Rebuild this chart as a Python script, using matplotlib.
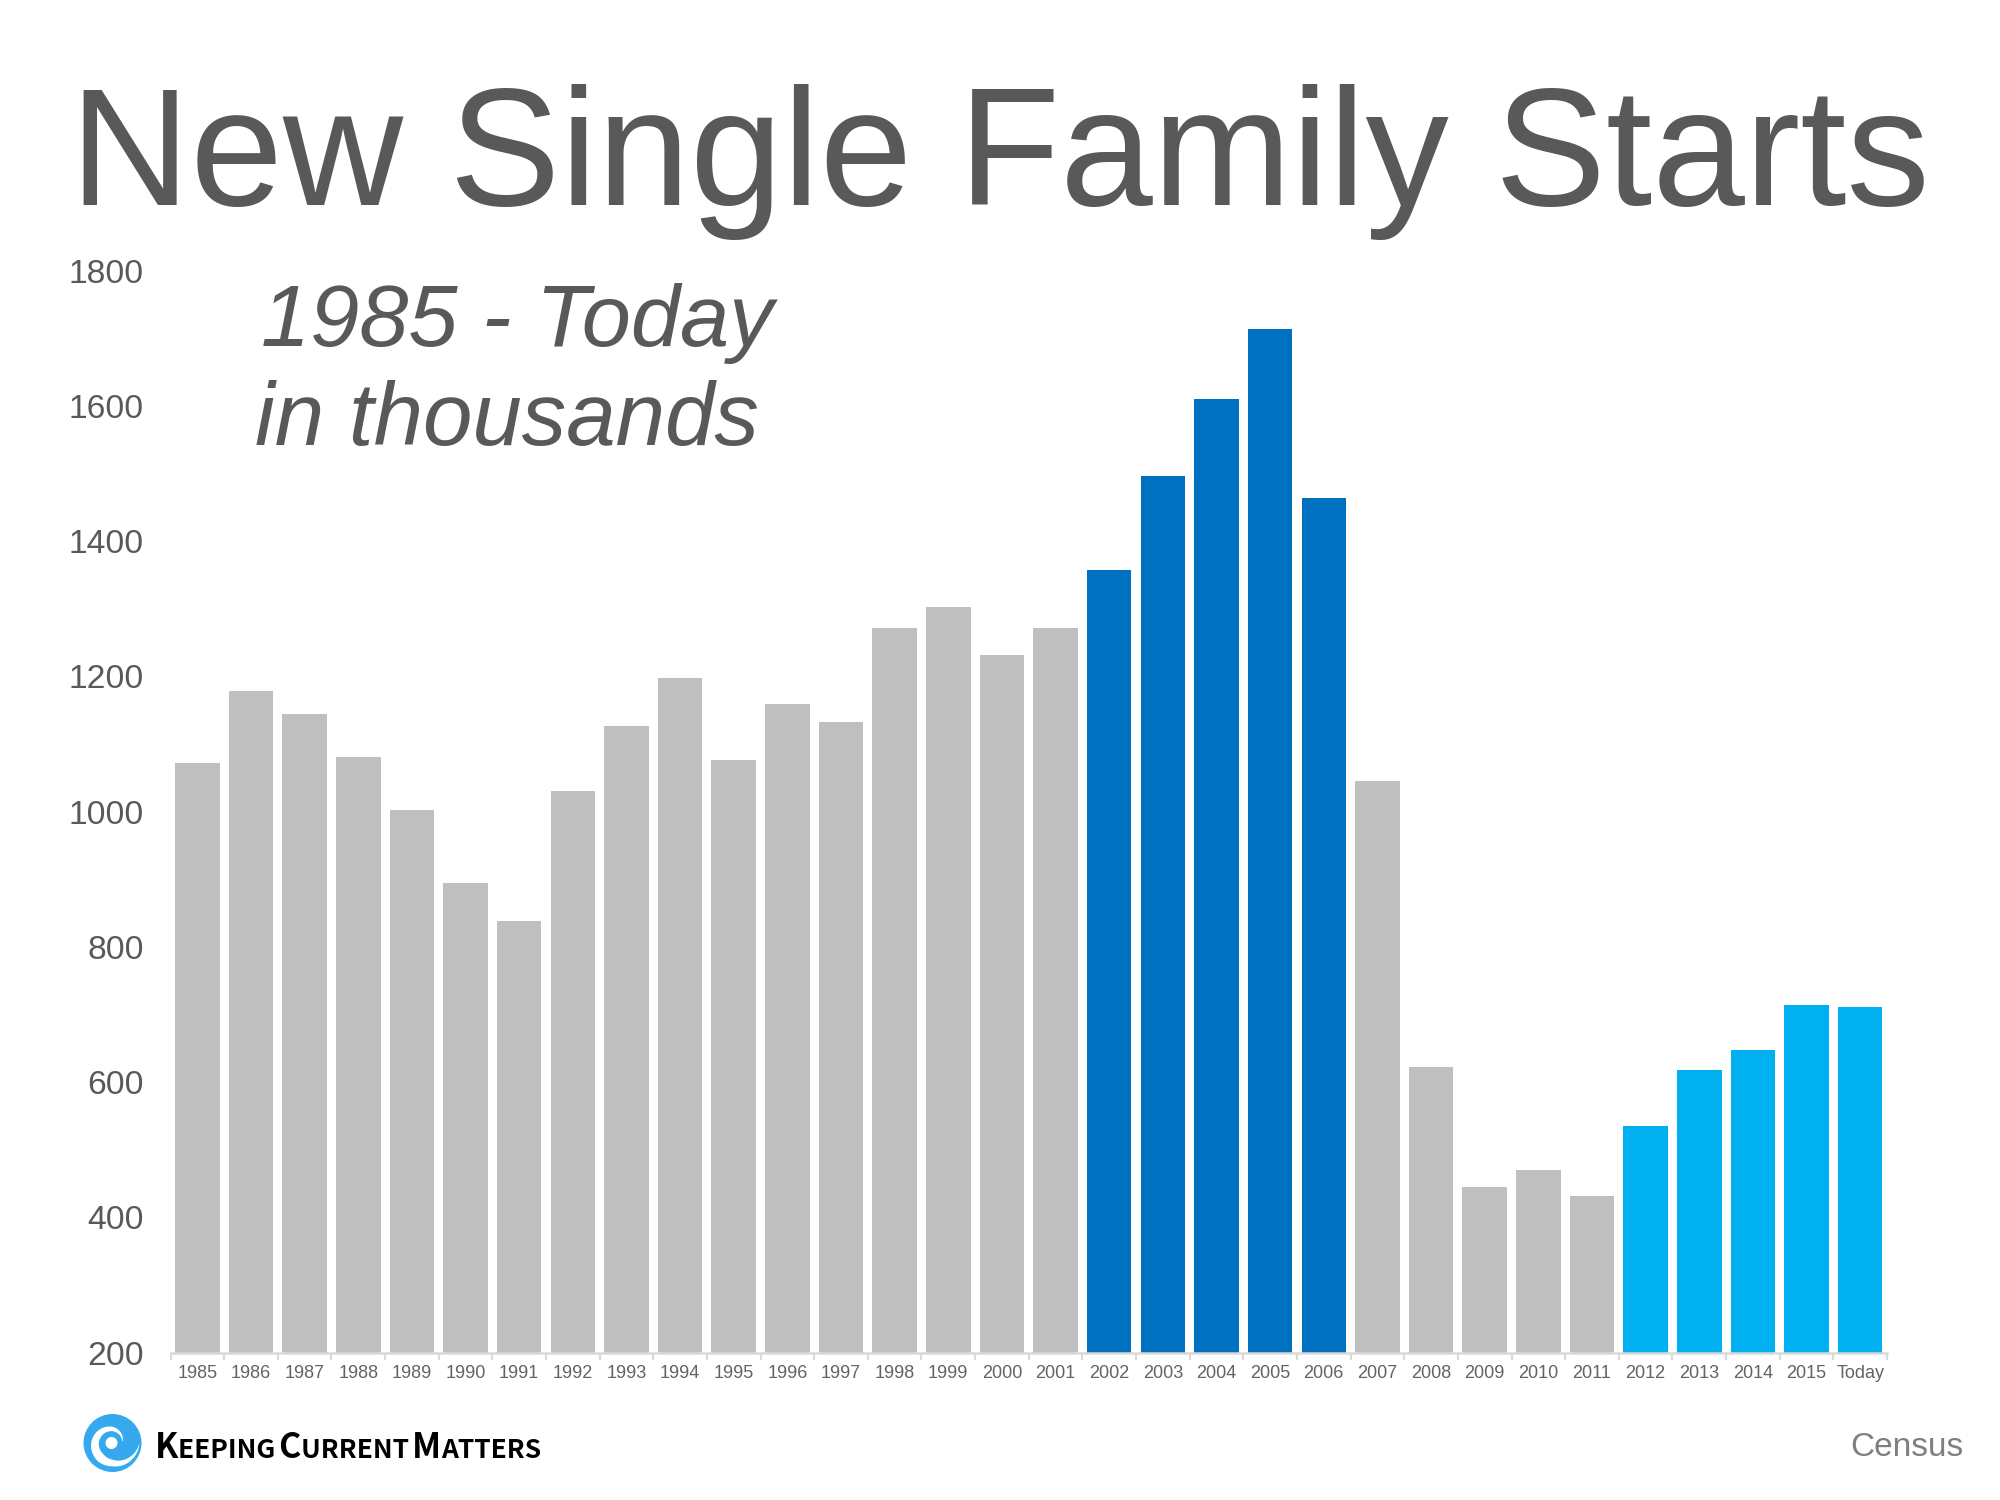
import numpy as np
import matplotlib
matplotlib.use("Agg")
from matplotlib import pyplot as plt
from matplotlib.patches import Circle
from matplotlib.ticker import FixedLocator, NullFormatter

plt.rcParams['font.family'] = ['Liberation Sans', 'DejaVu Sans']

years = ['1985', '1986', '1987', '1988', '1989', '1990', '1991', '1992', '1993', '1994', '1995',
         '1996', '1997', '1998', '1999', '2000', '2001', '2002', '2003', '2004', '2005', '2006',
         '2007', '2008', '2009', '2010', '2011', '2012', '2013', '2014', '2015', 'Today']
starts = [1072, 1178, 1145, 1081, 1003, 895, 839, 1030, 1126, 1198, 1076,
          1160, 1133, 1271, 1302, 1231, 1272, 1357, 1497, 1610, 1714, 1464,
          1046, 622, 445, 470, 431, 535, 618, 648, 714, 711]
y_ticks = [200, 400, 600, 800, 1000, 1200, 1400, 1600, 1800]

GREY = '#bfbfbf'
DARK = '#0070c0'
LIGHT = '#00b0f0'
TEXT = '#595959'
W, H = 2000, 1500

colors = [GREY] * 17 + [DARK] * 5 + [GREY] * 5 + [LIGHT] * 5


def fx(px):
    return px / W


def fy(py):
    return 1 - py / H


fig = plt.figure(figsize=(20, 15), dpi=100, facecolor='white')
ax = fig.add_axes([fx(170.5), fy(1352.7), (1887 - 170.5) / W, (1352.7 - 270.7) / H])

x = np.arange(len(years))
ax.bar(x, starts, width=0.83, color=colors, bottom=0)
ax.set_xlim(-0.5, len(years) - 0.5)
ax.set_ylim(200, 1800)

for s in ['top', 'left', 'right']:
    ax.spines[s].set_visible(False)
ax.spines['bottom'].set_color('#d9d9d9')
ax.spines['bottom'].set_linewidth(1.8)

ax.set_yticks(y_ticks)
ax.tick_params(axis='y', length=0, labelsize=24.2, labelcolor=TEXT, pad=19)
ax.set_xticks(x)
ax.set_xticklabels(years)
ax.tick_params(axis='x', which='major', length=0, labelsize=13, labelcolor='#636363', pad=9)
ax.xaxis.set_minor_locator(FixedLocator(np.arange(-0.5, len(years), 1)))
ax.xaxis.set_minor_formatter(NullFormatter())
ax.tick_params(axis='x', which='minor', length=5, width=1.5, color='#d9d9d9')

# heading and notes
fig.text(fx(70), fy(205), 'New Single Family Starts', fontsize=119.9, color=TEXT, va='baseline', ha='left')
fig.text(fx(261), fy(346), '1985 - Today', fontsize=63.6, color=TEXT, style='italic', va='baseline', ha='left')
fig.text(fx(255), fy(445), 'in thousands', fontsize=64, color=TEXT, style='italic', va='baseline', ha='left')
fig.text(fx(1963), fy(1456), 'Census', fontsize=24, color='#7f7f7f', va='baseline', ha='right')

# logo, drawn in pixel coords
logo = fig.add_axes([0, 0, 1, 1], facecolor='none')
logo.set_xlim(0, W)
logo.set_ylim(H, 0)
logo.axis('off')
cx, cy = 112.5, 1443
logo.add_patch(Circle((cx, cy), 29, color='#35a8ee', lw=0))
deg = np.linspace(0, 350, 200)
mid = np.interp(deg, [0, 90, 180, 270, 350], [27, 20, 17.5, 14, 10])
half = np.interp(deg, [0, 60, 130, 200, 280, 350], [0, 2.5, 4.5, 3.5, 2, 0.3])
t = np.radians(deg)
outer_x, outer_y = cx + (mid + half) * np.cos(t), cy + (mid + half) * np.sin(t)
inner_x, inner_y = cx + (mid - half) * np.cos(t), cy + (mid - half) * np.sin(t)
logo.fill(np.r_[outer_x, inner_x[::-1]], np.r_[outer_y, inner_y[::-1]], color='white', lw=0)
logo.add_patch(Circle((cx - 1, cy), 6, color='white', lw=0))

# small caps wordmark
renderer = fig.canvas.get_renderer()
pos = 155
for i, part in enumerate(['K', 'EEPING ', 'C', 'URRENT ', 'M', 'ATTERS']):
    size = 24.5 if i % 2 == 0 else 19
    txt = fig.text(fx(pos), fy(1458), part, fontsize=size, fontweight='bold', color='black',
                   family=['Noto Sans CJK SC', 'Liberation Sans'], va='baseline', ha='left')
    bb = txt.get_window_extent(renderer)
    pos = bb.x1 - (3 if part.endswith(' ') else 0)

fig.savefig('out.png', dpi=100)
